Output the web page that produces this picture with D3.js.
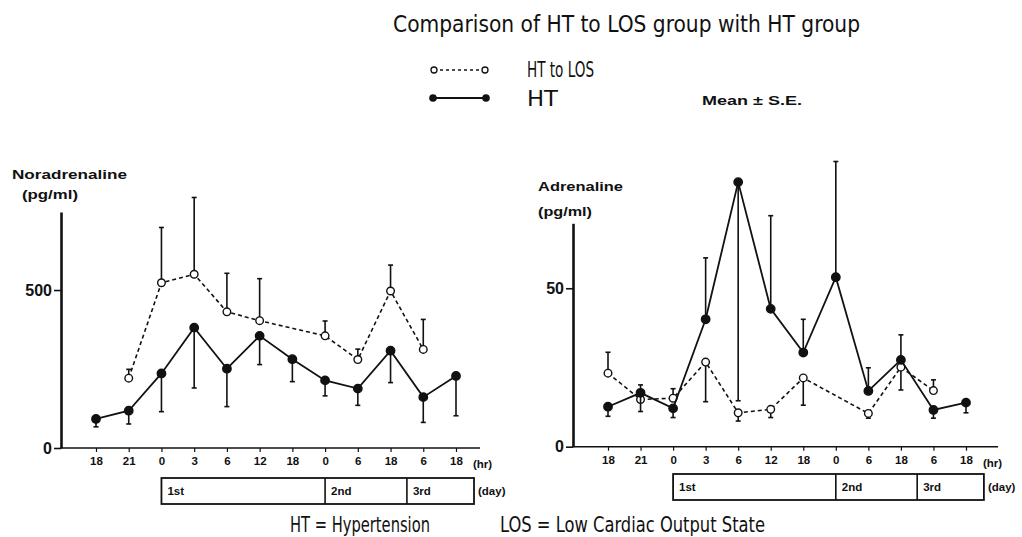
<!DOCTYPE html>
<html><head><meta charset="utf-8">
<script src="https://cdn.jsdelivr.net/npm/d3@7"></script>
<style>
body{margin:0;background:#fff;}
svg{display:block;}
text{fill:#111;}
.cond{font-family:"Liberation Sans Narrow","DejaVu Sans Condensed","Liberation Sans",sans-serif;}
.bold{font-family:"Liberation Sans","Arial",sans-serif;font-weight:bold;}
</style></head>
<body>
<svg id="c" width="1022" height="537"></svg>
<script>
// ---------- data ----------
const hours = ["18","21","0","3","6","12","18","0","6","18","6","18"];
const days = ["1st","2nd","3rd"];
const dayBounds = [2, 7, 9.5, 11.55]; // in time-point index units

const noraHT     = [92,118,236,381,251,355,281,214,188,308,161,228];
const noraHTerr  = [25,42,121,191,120,91,71,49,53,101,80,126];
const noraHTside = [-1,-1,-1,-1,-1,-1,-1,-1,-1,-1,-1,-1];
const noraLOS     = [null,221,523,550,431,403,null,355,280,497,312,null];
const noraLOSerr  = [null,28,175,243,122,133,null,47,33,82,95,null];
const noraLOSside = [1,1,1,1,1,1,1,1,1,1,1,1];

const adrHT     = [12.6,17.0,12.1,40.2,83.5,43.5,29.7,53.5,17.6,27.4,11.6,13.9];
const adrHTerr  = [3.0,5.9,2.9,19.4,69,29.4,10.5,36.5,7.3,7.9,2.6,3.2];
const adrHTside = [-1,-1,-1,1,-1,1,1,1,1,1,-1,-1];
const adrLOS     = [23.2,14.9,15.3,26.7,10.7,11.8,21.7,null,10.5,25.1,17.7,null];
const adrLOSerr  = [6.6,4.6,3.0,12.5,2.6,2.6,8.6,null,1.5,7.2,3.4,null];
const adrLOSside = [1,1,1,-1,-1,-1,-1,1,-1,-1,1,1];

const noraTicks = [0,500];
const adrTicks = [0,50];

// ---------- drawing ----------
const svg = d3.select("#c");

function txt(x,y,s,cls,size,len,anchor){
  const t = svg.append("text").attr("x",x).attr("y",y).attr("class",cls)
    .attr("font-size",size).text(s);
  if(len){ t.attr("textLength",len).attr("lengthAdjust","spacingAndGlyphs"); }
  if(anchor) t.attr("text-anchor",anchor);
  return t;
}

// title & legend
txt(393,32,"Comparison of HT to LOS group with HT group","cond",23,467);
txt(527,77,"HT to LOS","cond",21,67);
txt(527,106,"HT","cond",21,31);
txt(702,105,"Mean \u00B1 S.E.","bold",12.5,100);
svg.append("line").attr("x1",434).attr("x2",485).attr("y1",70).attr("y2",70)
  .attr("stroke","#111").attr("stroke-width",1.3).attr("stroke-dasharray","3,3");
[434,485].forEach(x=>svg.append("circle").attr("cx",x).attr("cy",70).attr("r",3)
  .attr("fill","#fff").attr("stroke","#111").attr("stroke-width",1.3));
svg.append("line").attr("x1",433).attr("x2",486).attr("y1",98).attr("y2",98)
  .attr("stroke","#111").attr("stroke-width",1.8);
[433,486].forEach(x=>svg.append("circle").attr("cx",x).attr("cy",98).attr("r",3.8).attr("fill","#111"));

// footnote
txt(290,532,"HT = Hypertension","cond",21,140);
txt(500,532,"LOS = Low Cardiac Output State","cond",21,265);

function panel(cfg){
  const g = svg.append("g");
  const x = d3.scaleLinear().domain([0,hours.length-1]).range([cfg.x0,cfg.x1]);
  const y = d3.scaleLinear().domain([0,cfg.ymax]).range([cfg.yBase,cfg.yTop]);

  // y axis
  const ya = g.append("g").attr("transform",`translate(${cfg.axX},0)`)
    .call(d3.axisLeft(y).tickValues(cfg.ticks).tickSize(7).tickSizeOuter(0).tickPadding(2));
  ya.select(".domain").attr("stroke","#111").attr("stroke-width",2.6);
  ya.selectAll(".tick line").attr("stroke","#111").attr("stroke-width",1.6);
  ya.selectAll(".tick text").attr("class","bold").attr("font-size",16).attr("fill","#111");

  // x axis
  g.append("line").attr("x1",cfg.axX-1).attr("x2",cfg.axEnd).attr("y1",cfg.yBase).attr("y2",cfg.yBase)
    .attr("stroke","#111").attr("stroke-width",1.6);
  const xa = g.append("g").attr("transform",`translate(0,${cfg.yBase})`)
    .call(d3.axisBottom(x).tickValues(d3.range(hours.length)).tickFormat(i=>hours[i])
      .tickSize(4).tickSizeOuter(0).tickPadding(5));
  xa.select(".domain").remove();
  xa.selectAll(".tick line").attr("stroke","#111").attr("stroke-width",1.2);
  xa.selectAll(".tick text").attr("class","bold").attr("font-size",11.5).attr("fill","#111");
  txt(cfg.x1+17,cfg.yBase+20,"(hr)","bold",11.5);

  // y labels
  txt(cfg.lblX,cfg.lblY,cfg.name,"bold",13,cfg.nameLen);
  txt(cfg.unitX,cfg.unitY,"(pg/ml)","bold",12,cfg.unitLen);

  // day boxes
  const bx = g.append("g");
  bx.append("rect").attr("x",x(dayBounds[0])).attr("y",cfg.boxY)
    .attr("width",x(dayBounds[3])-x(dayBounds[0])).attr("height",26)
    .attr("fill","none").attr("stroke","#111").attr("stroke-width",1.8);
  days.forEach((d,i)=>{
    if(i>0) bx.append("line").attr("x1",x(dayBounds[i])).attr("x2",x(dayBounds[i]))
      .attr("y1",cfg.boxY).attr("y2",cfg.boxY+26).attr("stroke","#111").attr("stroke-width",1.6);
    txt(x(dayBounds[i])+6,cfg.boxY+17,d,"bold",11.5);
  });
  txt(x(dayBounds[3])+4,cfg.boxY+17,"(day)","bold",11.5);

  // series
  function series(vals,errs,side,dashed,filled){
    const pts = vals.map((v,i)=>({i,v,e:errs[i],s:side[i]})).filter(d=>d.v!=null);
    const line = d3.line().x(d=>x(d.i)).y(d=>y(d.v));
    g.append("path").datum(pts).attr("d",line).attr("fill","none")
      .attr("stroke","#111").attr("stroke-width",dashed?1.6:1.8)
      .attr("stroke-dasharray",dashed?"4,3":null);
    pts.forEach(d=>{
      const ye = y(d.v + d.s*d.e);
      g.append("line").attr("x1",x(d.i)).attr("x2",x(d.i)).attr("y1",y(d.v)).attr("y2",ye)
        .attr("stroke","#111").attr("stroke-width",1.6);
      g.append("line").attr("x1",x(d.i)-2.5).attr("x2",x(d.i)+2.5).attr("y1",ye).attr("y2",ye)
        .attr("stroke","#111").attr("stroke-width",1.6);
    });
    g.selectAll(null).data(pts).enter().append("circle")
      .attr("cx",d=>x(d.i)).attr("cy",d=>y(d.v)).attr("r",filled?4.2:3.8)
      .attr("fill",filled?"#111":"#fff").attr("stroke","#111").attr("stroke-width",1.4);
  }
  series(cfg.los,cfg.losErr,cfg.losSide,true,false);
  series(cfg.ht,cfg.htErr,cfg.htSide,false,true);
}

panel({x0:96,x1:456,axX:61,axEnd:480,yBase:448,yTop:212,ymax:747,ticks:noraTicks,
  name:"Noradrenaline",lblX:12,lblY:179,nameLen:115,unitX:22,unitY:199,unitLen:56,boxY:478,
  ht:noraHT,htErr:noraHTerr,htSide:noraHTside,los:noraLOS,losErr:noraLOSerr,losSide:noraLOSside});
panel({x0:608,x1:966,axX:573,axEnd:998,yBase:446.7,yTop:223.3,ymax:70.5,ticks:adrTicks,
  name:"Adrenaline",lblX:538,lblY:191,nameLen:85,unitX:538,unitY:216,unitLen:54,boxY:474,
  ht:adrHT,htErr:adrHTerr,htSide:adrHTside,los:adrLOS,losErr:adrLOSerr,losSide:adrLOSside});
</script>
</body></html>
